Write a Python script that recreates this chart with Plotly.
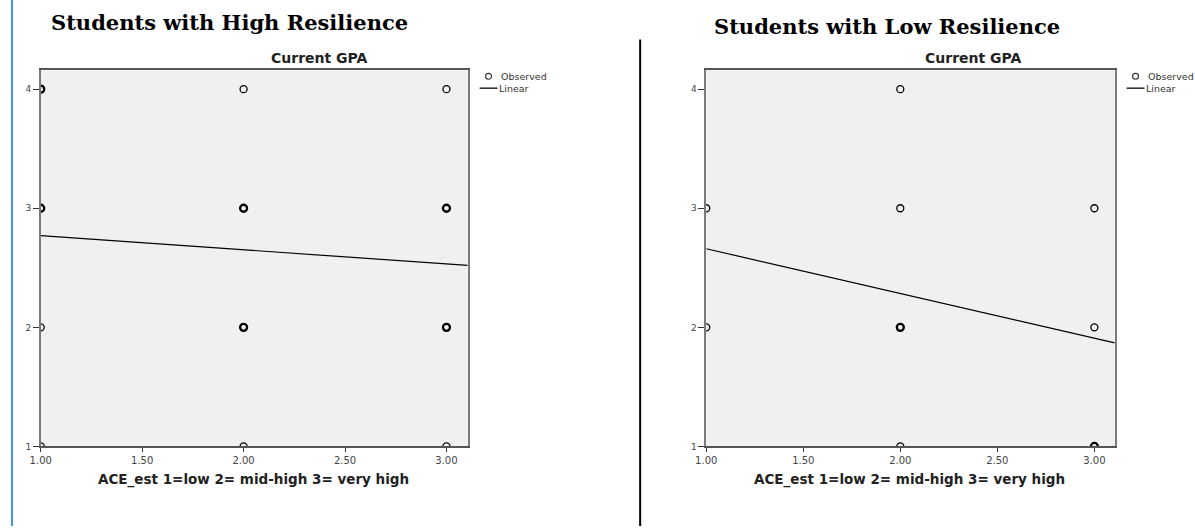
import plotly.graph_objects as go

# ---------------- data ----------------
panel_titles = ["Students with High Resilience", "Students with Low Resilience"]
chart_title = "Current GPA"
x_axis_title = "ACE_est 1=low 2= mid-high 3= very high"
legend_labels = ["Observed", "Linear"]

x_tick_vals = [1.0, 1.5, 2.0, 2.5, 3.0]
x_tick_text = ["1.00", "1.50", "2.00", "2.50", "3.00"]
y_tick_vals = [1, 2, 3, 4]
y_tick_text = ["1", "2", "3", "4"]

# High resilience: observed points (ACE level, GPA) and number of overlapping cases
high_ace = [1, 1, 1, 1, 2, 2, 2, 2, 3, 3, 3, 3]
high_gpa = [1, 2, 3, 4, 1, 2, 3, 4, 1, 2, 3, 4]
high_n = [1, 1, 2, 2, 1, 2, 2, 1, 1, 2, 2, 1]
high_fit_x = [1.0, 3.105]
high_fit_y = [2.77, 2.52]

# Low resilience
low_ace = [1, 1, 2, 2, 2, 2, 3, 3, 3]
low_gpa = [2, 3, 1, 2, 3, 4, 1, 2, 3]
low_n = [1, 1, 1, 2, 1, 1, 2, 1, 1]
low_fit_x = [1.0, 3.105]
low_fit_y = [2.66, 1.87]

# ---------------- layout helpers ----------------
W, H = 1195, 531


def px(x):
    return x / W


def py(y):
    return 1 - y / H


fig = go.Figure()

panels = [
    dict(ace=high_ace, gpa=high_gpa, n=high_n, fx=high_fit_x, fy=high_fit_y,
         xa="x", ya="y", dom=[30, 461], title_c=221, title_y=23, sub_c=311, xt_c=245,
         leg_x=473),
    dict(ace=low_ace, gpa=low_gpa, n=low_n, fx=low_fit_x, fy=low_fit_y,
         xa="x2", ya="y2", dom=[701.7, 1114], title_c=884, title_y=27, sub_c=971, xt_c=907,
         leg_x=1126),
]

annotations = []
shapes = []

for i, p in enumerate(panels):
    widths = [2.3 if k > 1 else 1.3 for k in p["n"]]
    fig.add_trace(go.Scatter(
        x=p["ace"], y=p["gpa"], mode="markers", xaxis=p["xa"], yaxis=p["ya"],
        name=legend_labels[0], showlegend=False, cliponaxis=True,
        marker=dict(symbol="circle-open", size=7, color="#000000",
                    line=dict(width=widths, color="#000000")),
        hoverinfo="x+y",
    ))
    fig.add_trace(go.Scatter(
        x=p["fx"], y=p["fy"], mode="lines", xaxis=p["xa"], yaxis=p["ya"],
        name=legend_labels[1], showlegend=False,
        line=dict(color="#000000", width=1.2),
    ))

    axis_common = dict(showgrid=False, zeroline=False, mirror=True, showline=True,
                       ticks="outside", tickcolor="#333333", tickwidth=1.2)
    xkey = "xaxis" if i == 0 else "xaxis2"
    ykey = "yaxis" if i == 0 else "yaxis2"
    fig.update_layout(**{
        xkey: dict(axis_common, domain=[px(p["dom"][0]), px(p["dom"][1])],
                   range=[1.0, 3.105], tickvals=x_tick_vals, ticktext=x_tick_text,
                   ticklen=4, linecolor="#555555", linewidth=1.5,
                   tickfont=dict(family="DejaVu Sans", size=10, color="#444444"),
                   anchor="y" if i == 0 else "y2"),
        ykey: dict(axis_common, domain=[py(450.7), py(71)],
                   range=[1.0, 4.158], tickvals=y_tick_vals, ticktext=y_tick_text,
                   ticklen=6, linecolor="#7a7a7a", linewidth=1.5,
                   tickfont=dict(family="DejaVu Sans", size=9, color="#444444"),
                   anchor="x" if i == 0 else "x2"),
    })

    annotations.append(dict(text="<b>" + panel_titles[i] + "</b>", x=px(p["title_c"]), y=py(p["title_y"]),
                            xref="paper", yref="paper", showarrow=False,
                            xanchor="center", yanchor="middle",
                            font=dict(family="DejaVu Serif", size=21, color="#000000"),
                            ))
    annotations.append(dict(text="<b>" + chart_title + "</b>", x=px(p["sub_c"]), y=py(59),
                            xref="paper", yref="paper", showarrow=False,
                            xanchor="center", yanchor="middle",
                            font=dict(family="DejaVu Sans", size=14, color="#222222")))
    annotations.append(dict(text="<b>" + x_axis_title + "</b>", x=px(p["xt_c"]), y=py(484),
                            xref="paper", yref="paper", showarrow=False,
                            xanchor="center", yanchor="middle",
                            font=dict(family="DejaVu Sans", size=13.5, color="#222222")))
    # legend keys
    lx = p["leg_x"]
    annotations.append(dict(text=legend_labels[0], x=px(lx + 20), y=py(77),
                            xref="paper", yref="paper", showarrow=False,
                            xanchor="left", yanchor="middle",
                            font=dict(family="DejaVu Sans", size=9.5, color="#333333")))
    annotations.append(dict(text=legend_labels[1], x=px(lx + 18), y=py(89),
                            xref="paper", yref="paper", showarrow=False,
                            xanchor="left", yanchor="middle",
                            font=dict(family="DejaVu Sans", size=9.5, color="#333333")))
    shapes.append(dict(type="circle", xref="paper", yref="paper",
                       x0=px(lx + 6), x1=px(lx + 12), y0=py(80), y1=py(74),
                       line=dict(color="#333333", width=1.2)))
    shapes.append(dict(type="line", xref="paper", yref="paper",
                       x0=px(lx), x1=px(lx + 18), y0=py(89), y1=py(89),
                       line=dict(color="#000000", width=1.3)))

# page decorations: blue page edge and divider
shapes.append(dict(type="rect", xref="paper", yref="paper", x0=0, x1=px(2), y0=0, y1=1,
                   line=dict(width=0), fillcolor="#4a90e2", layer="above"))
shapes.append(dict(type="line", xref="paper", yref="paper", x0=px(635), x1=px(635),
                   y0=py(40), y1=0, line=dict(color="#000000", width=2)))

fig.update_layout(
    width=W, height=H, autosize=False,
    margin=dict(l=0, r=0, t=0, b=0),
    paper_bgcolor="#ffffff", plot_bgcolor="#f0f0f0",
    showlegend=False,
    annotations=annotations, shapes=shapes,
)

css_js = (
    "document.documentElement.style.margin='0';"
    "document.documentElement.style.padding='0';"
    "document.documentElement.style.overflow='hidden';"
    "document.body.style.margin='0';"
    "document.body.style.padding='0';"
    "document.body.style.overflow='hidden';"
)

fig.write_html("out.html", config={"displayModeBar": False, "responsive": False},
               post_script=css_js)
